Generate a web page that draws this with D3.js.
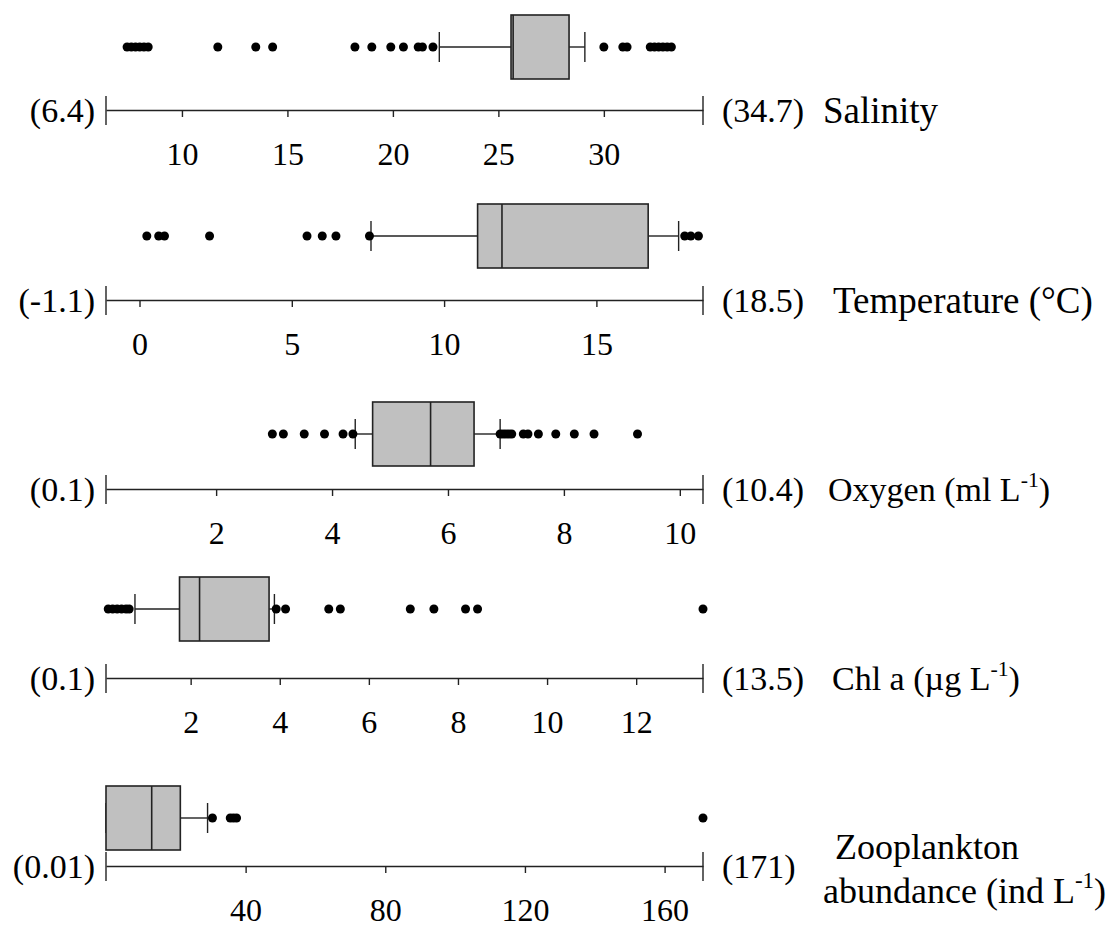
<!DOCTYPE html>
<html>
<head>
<meta charset="utf-8">
<script src="https://cdn.jsdelivr.net/npm/d3@7"></script>
<style>
  html, body { margin: 0; padding: 0; background: #fff; }
  svg text { font-family: "Liberation Serif", "Times New Roman", serif !important; fill: #000; }
</style>
</head>
<body>
<svg id="chart" width="1117" height="941"></svg>
<script>
// Environmental variables summarised as horizontal box plots
const variables = ["Salinity", "Temperature", "Oxygen", "Chl a", "Zooplankton"];
const rangeMin = [6.4, -1.1, 0.1, 0.1, 0.01];
const rangeMax = [34.7, 18.5, 10.4, 13.5, 171];
const minLabels = ["(6.4)", "(-1.1)", "(0.1)", "(0.1)", "(0.01)"];
const maxLabels = ["(34.7)", "(18.5)", "(10.4)", "(13.5)", "(171)"];

const whiskerLow  = [22.2, 7.6, 4.4, 0.75, 0.01];
const quartile1   = [25.6, 11.1, 4.7, 1.75, 0.01];
const medians     = [25.7, 11.9, 5.7, 2.2, 13.1];
const quartile3   = [28.35, 16.7, 6.45, 3.76, 21.3];
const whiskerHigh = [29.1, 17.7, 6.9, 3.88, 29.1];

const salinityOutliers = [7.4, 7.6, 7.8, 8.0, 8.2, 8.4, 11.7, 13.5, 14.3, 18.2, 19.0, 19.9, 20.5, 21.2, 21.4, 21.9,
  30.0, 30.9, 31.1, 32.2, 32.4, 32.6, 32.8, 33.0, 33.2];
const temperatureOutliers = [0.24, 0.63, 0.82, 2.3, 5.5, 6.0, 6.45, 7.55, 17.9, 18.1, 18.35];
const oxygenOutliers = [2.97, 3.16, 3.52, 3.87, 4.19, 4.36, 6.9, 6.95, 7.0, 7.05, 7.1, 7.3, 7.38, 7.56, 7.86, 8.18, 8.52, 9.27];
const chlOutliers = [0.15, 0.25, 0.35, 0.45, 0.55, 0.62, 3.92, 4.13, 5.1, 5.36, 6.93, 7.46, 8.17, 8.44, 13.5];
const zooplanktonOutliers = [30.5, 35.6, 36.5, 37.4, 171];
const outliers = [salinityOutliers, temperatureOutliers, oxygenOutliers, chlOutliers, zooplanktonOutliers];

const tickValues = [
  [10, 15, 20, 25, 30],
  [0, 5, 10, 15],
  [2, 4, 6, 8, 10],
  [2, 4, 6, 8, 10, 12],
  [40, 80, 120, 160]
];

// Axis titles: each is a list of [text, isSuperscript] runs, one list per line
const titles = [
  [[["Salinity", false]]],
  [[["Temperature (\u00B0C)", false]]],
  [[["Oxygen (ml L", false], ["-1", true], [")", false]]],
  [[["Chl a (\u00B5g L", false], ["-1", true], [")", false]]],
  [[["Zooplankton", false]], [["abundance (ind L", false], ["-1", true], [")", false]]]
];

// ---- layout ----
const x0 = 106, x1 = 703;
const axisY = [110, 300, 489, 678, 866];
const boxTop = [-95, -96, -87, -101, -80];      // box top relative to axis line
const boxH = 64;
const capH = 30;
const titleX = [823, 833, 828, 832, 835];
const titleSize = [37, 37, 34, 34, 36];
const titleShift = [0, 0, 0, 0, 2];
const ink = "#222";
const serif = '"Liberation Serif", "Times New Roman", serif';

const svg = d3.select("#chart");

variables.forEach((name, i) => {
  const x = d3.scaleLinear().domain([rangeMin[i], rangeMax[i]]).range([x0, x1]);
  const g = svg.append("g").attr("transform", `translate(0,${axisY[i]})`);

  // axis with interior ticks
  const axis = d3.axisBottom(x).tickValues(tickValues[i]).tickSize(7).tickSizeOuter(0)
    .tickPadding(25).tickFormat(d3.format("d"));
  const ga = g.append("g").call(axis).attr("font-family", serif);
  ga.select(".domain").attr("stroke", ink).attr("stroke-width", 1.6);
  ga.selectAll(".tick line").attr("stroke", ink).attr("stroke-width", 1.4);
  ga.selectAll(".tick text").attr("font-size", 32).style("font-family", serif).attr("fill", "#000");

  // end ticks spanning the line
  [rangeMin[i], rangeMax[i]].forEach(v => {
    g.append("line").attr("x1", x(v)).attr("x2", x(v)).attr("y1", -14).attr("y2", 15)
      .attr("stroke", ink).attr("stroke-width", 1.4);
  });

  // range labels
  g.append("text").attr("x", x(rangeMin[i]) - 11).attr("y", 0).attr("dy", "0.34em")
    .attr("text-anchor", "end").attr("font-size", 34).style("font-family", serif).text(minLabels[i]);
  g.append("text").attr("x", x(rangeMax[i]) + 19).attr("y", 0).attr("dy", "0.34em")
    .attr("font-size", 34).style("font-family", serif).text(maxLabels[i]);

  // title
  const lines = titles[i];
  const lineGap = titleSize[i] * 1.24;
  lines.forEach((runs, li) => {
    const ty = (li - (lines.length - 1) / 2) * lineGap + titleShift[i];
    const t = g.append("text").attr("x", titleX[i] - (li > 0 ? 12 : 0)).attr("y", ty).attr("dy", "0.36em")
      .attr("font-size", titleSize[i]).style("font-family", serif);
    runs.forEach(([s, sup], ri) => {
      const sp = t.append("tspan").text(s);
      if (sup) sp.attr("font-size", titleSize[i] * 0.64).attr("dy", -titleSize[i] * 0.42);
      else if (ri > 0) sp.attr("dy", titleSize[i] * 0.42);
    });
  });

  // box plot
  const bt = boxTop[i];
  const cy = bt + boxH / 2;
  const b = g.append("g");
  b.append("line").attr("x1", x(whiskerLow[i])).attr("x2", x(quartile1[i])).attr("y1", cy).attr("y2", cy)
    .attr("stroke", ink).attr("stroke-width", 1.4);
  b.append("line").attr("x1", x(quartile3[i])).attr("x2", x(whiskerHigh[i])).attr("y1", cy).attr("y2", cy)
    .attr("stroke", ink).attr("stroke-width", 1.4);
  [whiskerLow[i], whiskerHigh[i]].forEach(v => {
    b.append("line").attr("x1", x(v)).attr("x2", x(v)).attr("y1", cy - capH / 2).attr("y2", cy + capH / 2)
      .attr("stroke", ink).attr("stroke-width", 1.4);
  });
  b.append("rect").attr("x", x(quartile1[i])).attr("y", bt)
    .attr("width", x(quartile3[i]) - x(quartile1[i])).attr("height", boxH)
    .attr("fill", "#c0c0c0").attr("stroke", ink).attr("stroke-width", 1.6);
  b.append("line").attr("x1", x(medians[i])).attr("x2", x(medians[i])).attr("y1", bt).attr("y2", bt + boxH)
    .attr("stroke", ink).attr("stroke-width", 1.6);

  b.selectAll("circle").data(outliers[i]).join("circle")
    .attr("cx", d => x(d)).attr("cy", cy).attr("r", 4.5).attr("fill", "#000");
});
</script>
</body>
</html>
